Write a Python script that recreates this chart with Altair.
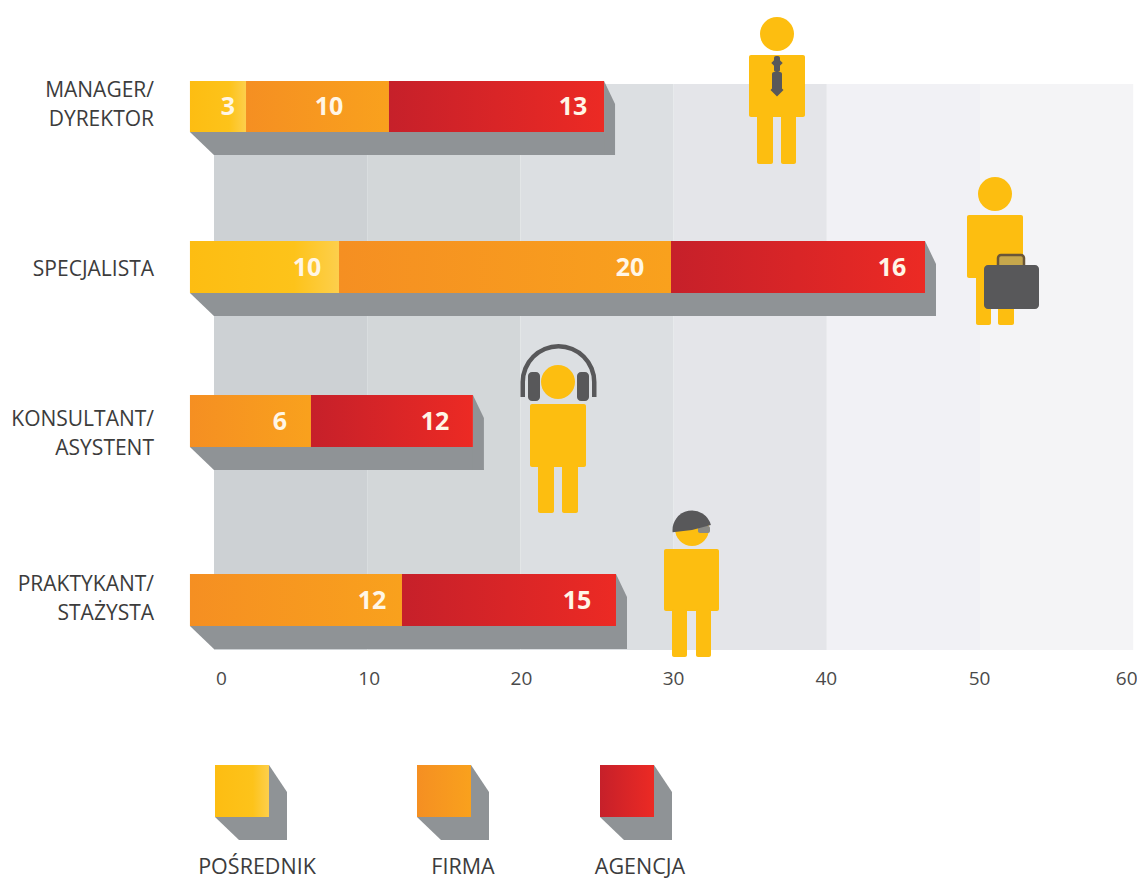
import altair as alt
import pandas as pd

# axis values and calibration of the reference picture
ORIGIN_PX, UNIT_PX = 214.0, 15.32
def u(p):
    return (p - ORIGIN_PX) / UNIT_PX

tick_values = [0, 10, 20, 30, 40, 50, 60]
band_colors = ["#cdd1d4", "#d3d7d9", "#dcdfe2", "#e4e5e9", "#f1f1f5", "#f4f4f6"]

roles = ["MANAGER/\nDYREKTOR", "SPECJALISTA", "KONSULTANT/\nASYSTENT", "PRAKTYKANT/\nSTAŻYSTA"]
role_centre = [105.5, 270, 434.5, 599.5]
row_top = [81, 241, 395, 574]
row_bottom = [132, 293, 447, 626]
bar_start = -1.57

# bar edges as drawn, in axis units, and printed values
posrednik_end = [2.09, 8.16, None, None]
firma_end = [11.42, 29.83, 6.33, 12.27]
agencja_end = [25.46, 46.41, 16.9, 26.24]
posrednik_vals = [3, 10, None, None]
firma_vals = [10, 20, 6, 12]
agencja_vals = [13, 16, 12, 15]
posrednik_lbl_x = [228, 307, None, None]
firma_lbl_x = [329, 630, 280, 372]
agencja_lbl_x = [573, 892, 435, 577]

series_names = ["POŚREDNIK", "FIRMA", "AGENCJA"]
legend_left = [215, 417, 600]
legend_label_x = [257, 463, 640]
legend_top, legend_bottom, legend_size = 765, 817, 54

YELLOW, DARK, SHADOW = "#fdbe10", "#58585a", "#8f9396"
GRADS = {
    "y": alt.Gradient(gradient="linear", x1=0, x2=1, y1=0, y2=0,
                      stops=[alt.GradientStop(offset=0, color="#fdbd12"), alt.GradientStop(offset=0.7, color="#fdc31a"), alt.GradientStop(offset=1, color="#fdcf4c")]),
    "o": alt.Gradient(gradient="linear", x1=0, x2=1, y1=0, y2=0,
                      stops=[alt.GradientStop(offset=0, color="#f58f22"), alt.GradientStop(offset=1, color="#f9a11d")]),
    "r": alt.Gradient(gradient="linear", x1=0, x2=1, y1=0, y2=0,
                      stops=[alt.GradientStop(offset=0, color="#c6202a"), alt.GradientStop(offset=1, color="#ec2a24")]),
}

AXIS = alt.Axis(values=tick_values, domain=False, ticks=False, grid=False, offset=-210,
                labelPadding=0, labelFont="Open Sans", labelFontSize=19, labelColor="#4a4a4a",
                labelFlush=False, labelOverlap=False, labelAngle=0, format="d", title=None,
                labelOffset=alt.expr("datum.value == 0 ? 7 : datum.value == 60 ? -7 : datum.value == 10 ? 1.5 : datum.value == 20 ? 0.5 : datum.value == 30 ? -0.5 : -1"))
X = alt.X("x:Q", axis=AXIS, scale=alt.Scale(domain=[u(8), u(1137)], nice=False, zero=False))
Y = alt.Y("y:Q", axis=None, scale=alt.Scale(domain=[879, 8], nice=False, zero=False))
X2, Y2 = alt.X2("x2:Q"), alt.Y2("y2:Q")

def rects(rows, **mark):
    return alt.Chart(pd.DataFrame(rows, columns=["x", "x2", "y", "y2"])).mark_rect(**mark).encode(x=X, x2=X2, y=Y, y2=Y2)

def box(l, r, t, b):
    return (u(l), u(r), t, b)

# bands with the axis
band_df = pd.DataFrame({"x": tick_values[:-1], "x2": tick_values[1:], "y": [84] * 6, "y2": [650] * 6, "c": band_colors})
bands = alt.Chart(band_df).mark_rect().encode(x=X, x2=X2, y=Y, y2=Y2, color=alt.Color("c:N", scale=None))

# 3D shadows
def shadow_rows(l, r, t, b, gid, dx, dy, side_drop, lead):
    return [
        dict(x=u(l), y=b, y2=b, g=f"{gid}a"), dict(x=u(l + lead), y=b, y2=b + dy, g=f"{gid}a"),
        dict(x=u(r), y=b, y2=b + dy, g=f"{gid}a"), dict(x=u(r + dx), y=b + dy, y2=b + dy, g=f"{gid}a"),
        dict(x=u(r), y=t, y2=b + dy, g=f"{gid}b"), dict(x=u(r + dx), y=t + side_drop, y2=b + dy, g=f"{gid}b"),
    ]

shadow_data = []
for i in range(4):
    shadow_data += shadow_rows(ORIGIN_PX + bar_start * UNIT_PX, ORIGIN_PX + agencja_end[i] * UNIT_PX,
                               row_top[i], row_bottom[i], f"r{i}", 11, 23, 23, 24)
for i, l in enumerate(legend_left):
    shadow_data += shadow_rows(l, l + legend_size, legend_top, legend_bottom, f"l{i}", 18, 23, 27, 24)
shadows = alt.Chart(pd.DataFrame(shadow_data)).mark_area(color=SHADOW, interpolate="linear").encode(
    x=X, y=Y, y2=Y2, detail="g:N")

# bars
seg = {"y": [], "o": [], "r": []}
for i in range(4):
    t, b = row_top[i], row_bottom[i]
    prev = bar_start
    if posrednik_end[i] is not None:
        seg["y"].append((prev, posrednik_end[i], t, b))
        prev = posrednik_end[i]
    seg["o"].append((prev, firma_end[i], t, b))
    seg["r"].append((firma_end[i], agencja_end[i], t, b))
for k, l in zip("yor", legend_left):
    seg[k].append(box(l, l + legend_size, legend_top, legend_bottom))
bar_layers = [rects(seg[k], color=GRADS[k]) for k in "yor"]

# printed values
val_rows = []
mids = [(row_top[i] + row_bottom[i]) / 2 for i in range(4)]
for vals, xs in ((posrednik_vals, posrednik_lbl_x), (firma_vals, firma_lbl_x), (agencja_vals, agencja_lbl_x)):
    for i in range(4):
        if vals[i] is not None:
            val_rows.append(dict(x=u(xs[i]), y=mids[i] + 0.5, t=str(vals[i])))
val_text = alt.Chart(pd.DataFrame(val_rows)).mark_text(
    font="Open Sans", fontWeight="bold", fontSize=25, color="#fff6e6", baseline="middle", align="center"
).encode(x=X, y=Y, text="t:N")

# row labels
lab_rows = []
for i, r in enumerate(roles):
    lines = r.split("\n")
    for j, line in enumerate(lines):
        off = 0 if len(lines) == 1 else (-14.5 if j == 0 else 14.5)
        lab_rows.append(dict(x=u(154), y=role_centre[i] + off, t=line))
row_text = alt.Chart(pd.DataFrame(lab_rows)).mark_text(
    font="Open Sans", fontSize=21, color="#3c3c3c", baseline="middle", align="right"
).encode(x=X, y=Y, text="t:N")

# legend labels
leg_text = alt.Chart(pd.DataFrame({"x": [u(p) for p in legend_label_x], "y": [868] * 3, "t": series_names})).mark_text(
    font="Open Sans", fontSize=21.5, color="#3c3c3c", baseline="middle", align="center"
).encode(x=X, y=Y, text="t:N")

# people icons: head centre, body box, legs
people = [
    dict(head=(777, 34), body=(749, 805, 55, 117), legs=[(757, 773), (781, 796)], leg_bottom=164),
    dict(head=(995, 194), body=(967, 1023, 215, 278), legs=[(976, 991), (998, 1014)], leg_bottom=325),
    dict(head=(558, 382), body=(530, 586, 404, 467), legs=[(538, 554), (562, 578)], leg_bottom=513),
    dict(head=(692, 529), body=(664, 719, 549, 611), legs=[(672, 687), (696, 711)], leg_bottom=657),
]
body_rows, head_rows = [], []
for p in people:
    l, r, t, b = p["body"]
    body_rows.append(box(l, r, t, b))
    for a, c in p["legs"]:
        body_rows.append(box(a, c, b - 2, p["leg_bottom"]))
    head_rows.append(dict(x=u(p["head"][0]), y=p["head"][1]))
bodies = rects(body_rows, color=YELLOW, cornerRadius=2)
heads = alt.Chart(pd.DataFrame(head_rows)).mark_circle(color=YELLOW, size=34 ** 2, opacity=1).encode(x=X, y=Y)

# tie
tie = rects([box(772, 782, 72, 90), box(774, 780, 56, 72)], color=DARK, cornerRadius=2)
tie_tip = alt.Chart(pd.DataFrame([dict(x=u(777), y=90)])).mark_point(
    shape="diamond", filled=True, color=DARK, size=170, opacity=1).encode(x=X, y=Y)
tie_knot = alt.Chart(pd.DataFrame([dict(x=u(777), y=63)])).mark_point(
    shape="diamond", filled=True, color=DARK, size=130, opacity=1).encode(x=X, y=Y)

# briefcase
case_handle = rects([box(998, 1024, 255, 270)], fill="#c6a74c", stroke="#6a5638", strokeWidth=2.5, cornerRadius=3)
case = rects([box(984, 1039, 265, 309)], color=DARK, cornerRadius=4)

# headphones
phones_c = alt.Chart(pd.DataFrame([dict(x=u(558.5), y=382)]))
phones_arc = phones_c.mark_arc(color=DARK, radius=38, radius2=33.5, theta=4.7124, theta2=7.854).encode(x=X, y=Y)
phones_rest = rects([box(520.5, 525, 382, 397), box(592, 596.5, 382, 397)], color=DARK)
phones_cups = rects([box(528, 540, 372, 401), box(577, 589, 372, 401)], color=DARK, cornerRadius=4)

# cap
cap_c = alt.Chart(pd.DataFrame([dict(x=u(692), y=530)]))
cap = cap_c.mark_arc(color=DARK, radius=19.5, theta=4.6, theta2=7.6).encode(x=X, y=Y)
cap_grey2 = rects([box(698, 710, 526, 533)], color="#8a8a86", cornerRadius=2)

layers = [bands, shadows] + bar_layers + [
    val_text, row_text, leg_text, bodies, heads, tie, tie_tip, tie_knot,
    case_handle, case, phones_arc, phones_rest, phones_cups, cap_grey2, cap,
]
chart = alt.layer(*layers).properties(
    width=1129, height=871, padding=0, background="white",
    autosize=alt.AutoSizeParams(type="none"),
).configure_view(stroke=None)

chart.save("out.html", embed_options={"renderer": "svg", "actions": False})
